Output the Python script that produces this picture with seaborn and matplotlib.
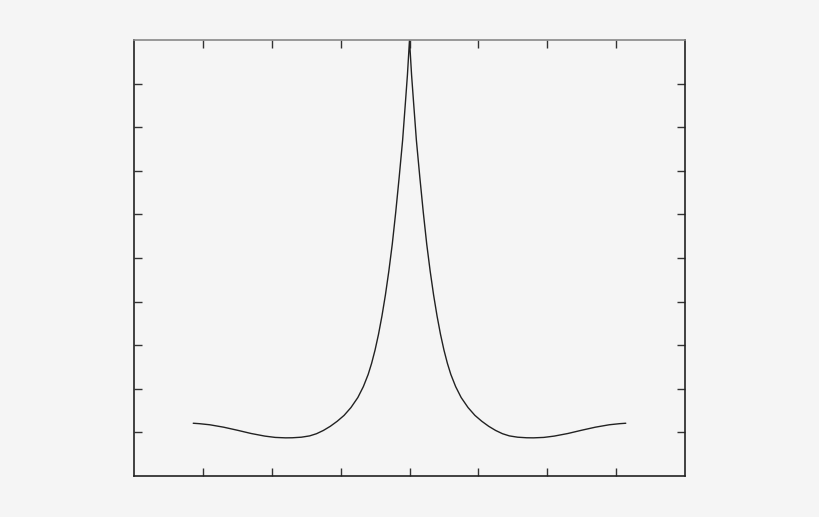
import matplotlib
matplotlib.use("Agg")
import matplotlib.pyplot as plt
import seaborn as sns
import pandas as pd

# values (curve is symmetric about x = 0)
x_vals = [-3.14, -3.05, -2.9, -2.7, -2.5, -2.3, -2.1, -1.95, -1.8, -1.7, -1.57, -1.45, -1.35,
          -1.25, -1.15, -1.05, -0.95, -0.85, -0.75, -0.67, -0.6, -0.55, -0.5, -0.45, -0.4,
          -0.35, -0.3, -0.25, -0.2, -0.15, -0.1, -0.06, -0.03, 0.0,
          0.03, 0.06, 0.1, 0.15, 0.2, 0.25, 0.3, 0.35, 0.4, 0.45, 0.5, 0.55, 0.6, 0.67,
          0.75, 0.85, 0.95, 1.05, 1.15, 1.25, 1.35, 1.45, 1.57, 1.7, 1.8, 1.95, 2.1, 2.3,
          2.5, 2.7, 2.9, 3.05, 3.14]
y_vals = [1.21, 1.20, 1.175, 1.12, 1.05, 0.975, 0.915, 0.885, 0.875, 0.877, 0.89, 0.92, 0.97,
          1.045, 1.14, 1.255, 1.39, 1.57, 1.80, 2.05, 2.33, 2.585, 2.89, 3.25, 3.67,
          4.15, 4.70, 5.32, 6.05, 6.85, 7.70, 8.55, 9.20, 10.0,
          9.20, 8.55, 7.70, 6.85, 6.05, 5.32, 4.70, 4.15, 3.67, 3.25, 2.89, 2.585, 2.33, 2.05,
          1.80, 1.57, 1.39, 1.255, 1.14, 1.045, 0.97, 0.92, 0.89, 0.877, 0.875, 0.885, 0.915, 0.975,
          1.05, 1.12, 1.175, 1.20, 1.21]
x_ticks = [-3, -2, -1, 0, 1, 2, 3]
y_ticks = [1, 2, 3, 4, 5, 6, 7, 8, 9]

df = pd.DataFrame({"x": x_vals, "y": y_vals})

sns.set_style("ticks")
bg = "#f5f5f5"
fig = plt.figure(figsize=(8.2, 5.17), dpi=100, facecolor=bg)
ax = fig.add_axes([134 / 820, 41 / 517, 551 / 820, 436 / 517])
ax.set_facecolor(bg)

sns.lineplot(data=df, x="x", y="y", sort=False, color="#222222", linewidth=1.0, ax=ax)

ax.set_xlim(-4, 4)
ax.set_ylim(0, 10)
ax.set_xticks(x_ticks)
ax.set_yticks(y_ticks)
ax.set_xticklabels([])
ax.set_yticklabels([])
ax.set_xlabel("")
ax.set_ylabel("")
ax.tick_params(axis="both", which="both", direction="in", length=6, width=1.0,
               color="#333333", top=True, right=True, bottom=True, left=True)
for side in ["left", "bottom", "right"]:
    ax.spines[side].set_visible(True)
    ax.spines[side].set_color("#222222")
    ax.spines[side].set_linewidth(1.2)
ax.spines["top"].set_visible(True)
ax.spines["top"].set_color("#888888")
ax.spines["top"].set_linewidth(1.2)

fig.savefig("out.png", dpi=100, facecolor=bg)
